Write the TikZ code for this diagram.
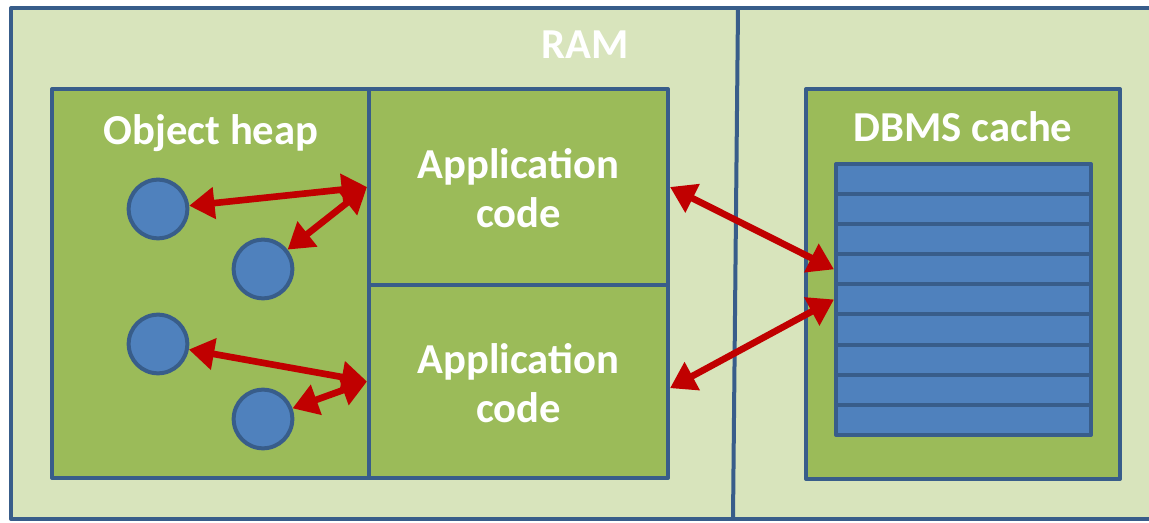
\documentclass[tikz,border=0pt]{standalone}
\usepackage{fontspec}
\setmainfont{Carlito}
\usetikzlibrary{arrows.meta,positioning,fit}

\definecolor{ramfill}{HTML}{D8E4BC}
\definecolor{boxfill}{HTML}{9BBB59}
\definecolor{objfill}{HTML}{4F81BD}
\definecolor{edge}{HTML}{385D8A}
\definecolor{link}{HTML}{C00000}

\tikzset{
  box/.style={draw=edge, fill=boxfill, line width=3pt, line join=round, inner sep=0pt},
  slot/.style={draw=edge, fill=objfill, line width=3pt, line join=round, inner sep=0pt},
  obj/.style={circle, draw=edge, fill=objfill, line width=3pt, minimum size=44pt, inner sep=0pt},
  title/.style={text=white, font=\bfseries\fontsize{32}{37}\selectfont, align=center},
  link/.style={draw=link, line width=5pt, {Triangle[length=19pt,width=23pt]}-{Triangle[length=19pt,width=23pt]}}
}

\begin{document}
\begin{tikzpicture}[x=0.75pt,y=-0.75pt]
\useasboundingbox (0,0) rectangle (1149,523);
\clip (0,0) rectangle (1149,523);

% memory area
\draw[draw=edge, fill=ramfill, line width=3pt, line join=round] (11,8) rectangle (1170,519);
\draw[edge, line width=3pt] (738,8) -- (733,519);
\node[title] (ram) at (585,45) {RAM};

% object heap and application code
\node[box, fit={(52,89) (369,478)}] (heap) {};
\node[title] (heaplbl) at (211,133) {Object heap};
\node[box, fit={(369,89) (668,285)}] (app1) {};
\node[box, fit={(369,285) (668,478)}] (app2) {};
\node[title] (app1lbl) at ([yshift=-1pt]app1.center) {Application\\code};
\node[title] (app2lbl) at ([yshift=-1pt]app2.center) {Application\\code};

\node[obj] (o1) at (158,209) {};
\node[obj] (o2) at (263,269) {};
\node[obj] (o3) at (158,344) {};
\node[obj] (o4) at (263,419) {};

% cache with its pages
\node[box, fit={(806,89) (1120,479)}] (cache) {};
\node[title] (cachelbl) at (963,127) {DBMS cache};
\foreach \i in {1,...,9}
  \node[slot, fit={(836,{164+(\i-1)*30.1}) (1091,{164+\i*30.1})}] (row\i) {};

% references
\draw[link] (o1) -- (app1.west);
\draw[link] (o2) -- (app1.west);
\draw[link] (o3) -- (app2.west);
\draw[link] (o4) -- (app2.west);
\draw[link] (app1.east) -- (row4.west);
\draw[link] ([yshift=-5pt]app2.east) -- (row5.west);
\end{tikzpicture}
\end{document}
